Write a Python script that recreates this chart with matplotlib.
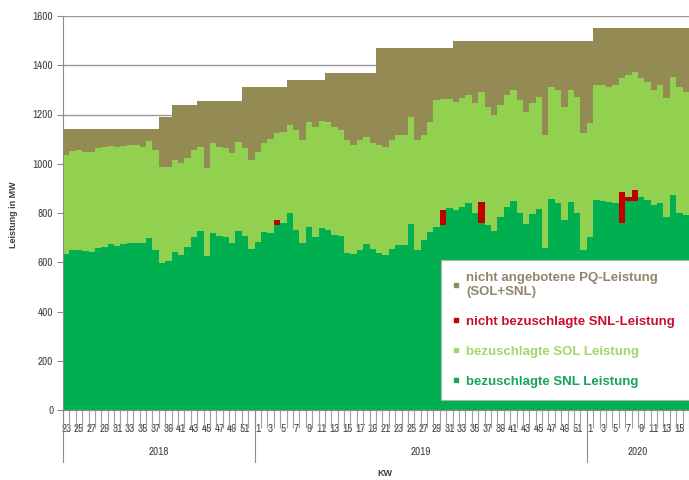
import numpy as np
import matplotlib.pyplot as plt
from matplotlib import font_manager
from matplotlib.lines import Line2D
from matplotlib.transforms import blended_transform_factory

# Kalenderwochen je Jahr
jahre = [2018, 2019, 2020]
kw_von = [23, 1, 1]
kw_bis = [52, 52, 16]

# bezuschlagte SNL-Leistung [MW]
snl = [633, 650, 650, 647, 643, 656, 663, 674, 665, 674, 677, 679, 679, 697, 650,
       598, 606, 643, 629, 663, 704, 728, 625, 717, 706, 704, 677, 728, 706, 653,
       684, 724, 720, 751, 761, 801, 731, 677, 744, 701, 738, 731, 711, 707, 636,
       633, 650, 674, 653, 636, 629, 653, 670, 670, 755, 650, 690, 724, 745, 751,
       819, 812, 826, 842, 799, 758, 751, 728, 785, 826, 849, 801, 754, 797, 815,
       656, 855, 842, 772, 846, 799, 650,
       701, 853, 849, 846, 842, 761, 850, 850, 866, 853, 832, 842, 785, 873, 799, 790]

# nicht bezuschlagte SNL-Leistung [MW]
snl_nb = [0] * 98
snl_nb[33] = 20
snl_nb[59] = 61
snl_nb[65] = 88
snl_nb[87] = 126
snl_nb[88] = 16
snl_nb[89] = 45

# angebotene Leistung gesamt (SNL + SOL) [MW]
angebot = [1035, 1053, 1056, 1049, 1046, 1062, 1069, 1073, 1069, 1074, 1076, 1076, 1069, 1094, 1056,
           988, 988, 1015, 1002, 1022, 1056, 1069, 981, 1083, 1069, 1062, 1042, 1090, 1062, 1015,
           1049, 1083, 1099, 1124, 1130, 1157, 1137, 1096, 1171, 1150, 1175, 1171, 1150, 1137, 1096,
           1076, 1096, 1110, 1083, 1076, 1069, 1096, 1117, 1117, 1191, 1096, 1117, 1171, 1259, 1262,
           1262, 1252, 1266, 1279, 1246, 1293, 1232, 1198, 1239, 1279, 1300, 1259, 1211, 1246, 1273,
           1117, 1313, 1300, 1232, 1300, 1273, 1124,
           1164, 1320, 1320, 1313, 1320, 1347, 1360, 1374, 1347, 1334, 1300, 1320, 1266, 1354, 1313, 1290]

# praequalifizierte Leistung (SOL+SNL) [MW]
pq = ([1140] * 15 + [1190] * 2 + [1240] * 4 + [1255] * 7 + [1312] * 7 + [1340] * 6
      + [1370] * 8 + [1470] * 12 + [1500] * 22 + [1550] * 15)

labels = ['nicht angebotene PQ-Leistung\n(SOL+SNL)', 'nicht bezuschlagte SNL-Leistung',
          'bezuschlagte SOL Leistung', 'bezuschlagte SNL Leistung']

c_pq = '#948a54'
c_nb = '#c00000'
c_sol = '#92d050'
c_snl = '#00b050'

namen = {f.name for f in font_manager.fontManager.ttflist}
schmal = next((n for n in ['Archivo Narrow', 'Liberation Sans Narrow', 'Barlow Condensed']
               if n in namen), 'Liberation Sans')
plt.rcParams['font.family'] = [schmal, 'DejaVu Sans']

snl = np.array(snl)
snl_nb = np.array(snl_nb)
sol = np.array(angebot) - snl - snl_nb
rest = np.array(pq) - np.array(angebot)

wochen = []
jahr_idx = []
for j, a, b in zip(jahre, kw_von, kw_bis):
    for kw in range(a, b + 1):
        wochen.append(kw)
        jahr_idx.append(j)
x = np.arange(len(wochen))

fig = plt.figure(figsize=(6.89, 4.8), dpi=100)
ax = fig.add_axes([63 / 689, 70 / 480, 1 - 63 / 689, 394 / 480])

ax.bar(x, snl, width=1.0, color=c_snl, linewidth=0, zorder=2)
ax.bar(x, snl_nb, width=1.0, bottom=snl, color=c_nb, linewidth=0, zorder=2)
ax.bar(x, sol, width=1.0, bottom=snl + snl_nb, color=c_sol, linewidth=0, zorder=2)
ax.bar(x, rest, width=1.0, bottom=snl + snl_nb + sol, color=c_pq, linewidth=0, zorder=2)

ax.set_xlim(-0.5, len(wochen) - 0.5)
ax.set_ylim(0, 1600)
ax.set_yticks(np.arange(0, 1601, 200))
ax.yaxis.grid(True, color='#9a9a9a', linewidth=1.0, zorder=0)
ax.set_axisbelow(True)
for s in ['top', 'right']:
    ax.spines[s].set_visible(False)
ax.spines['left'].set_color('#8c8c8c')
ax.spines['bottom'].set_color('#8c8c8c')
ax.tick_params(axis='y', length=4, color='#8c8c8c', labelsize=8, labelcolor='#404040', pad=3)

# Wochenbeschriftung jede zweite KW, Striche zwischen allen Kategorien
pos = [i for i, w in enumerate(wochen) if w % 2 == 1]
ax.set_xticks(pos)
ax.set_xticklabels([str(wochen[i]) for i in pos])
ax.set_xticks(np.arange(-0.5, len(wochen)), minor=True)
ax.tick_params(axis='x', which='major', length=0, labelsize=8, labelcolor='#404040', pad=10)
ax.tick_params(axis='x', which='minor', length=13, color='#a0a0a0', width=0.8)

trans = blended_transform_factory(ax.transData, ax.transAxes)
grenzen = [-0.5]
for j in jahre:
    grenzen.append(grenzen[-1] + jahr_idx.count(j))
for g in grenzen[:-1]:
    ax.plot([g, g], [0, -0.132], transform=trans, color='#8c8c8c', linewidth=0.8, clip_on=False)
for j, a, b in zip(jahre, grenzen[:-1], grenzen[1:]):
    ax.text((a + b) / 2, -0.107, str(j), transform=trans, ha='center', va='center',
            fontsize=8, color='#404040')

ax.text((385 - 63) / 626, -0.16, 'KW', transform=ax.transAxes, ha='center', va='center',
        fontsize=6.5, fontweight='bold', color='#404040', family='Liberation Sans')
fig.text(14 / 689, 1 - 215 / 480, 'Leistung in MW', rotation=90, ha='center', va='center',
         fontsize=6.5, fontweight='bold', color='#404040', family='Liberation Sans')

handles = [Line2D([], [], marker='s', linestyle='none', color=c, markersize=3)
           for c in ['#8f876a', c_nb, '#a3d66a', '#17a55a']]
leg = ax.legend(handles, labels, loc='upper left', mode='expand',
                bbox_to_anchor=(441 / 689, 1 - 260 / 480, 0.45, 0.0),
                bbox_transform=fig.transFigure, borderaxespad=0,
                frameon=True, fancybox=False, framealpha=1.0, facecolor='white',
                handlelength=0.5, handletextpad=0.5, labelspacing=1.35, borderpad=0.9,
                prop={'family': 'Liberation Sans', 'weight': 'bold', 'size': 9.5},
                labelcolor=['#8f876a', '#c8102e', '#a3d66a', '#17a55a'])
leg.get_frame().set_edgecolor('#b0b0b0')
leg.get_frame().set_linewidth(0.8)
leg.set_zorder(5)

fig.savefig('out.png', dpi=100)
